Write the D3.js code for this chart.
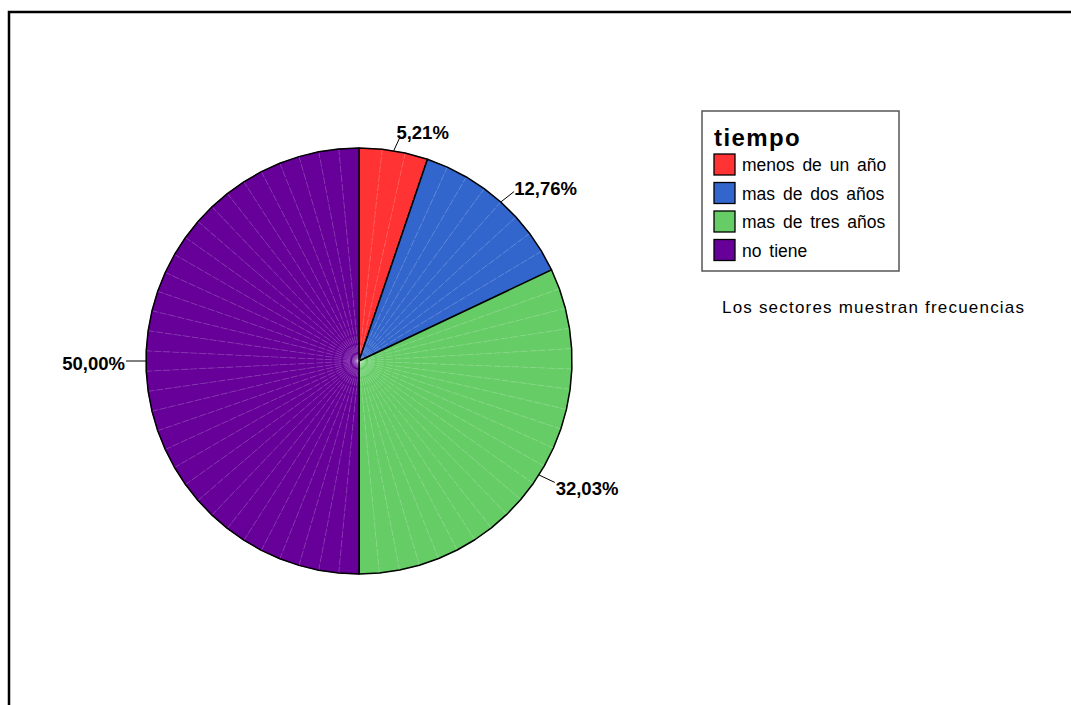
<!DOCTYPE html>
<html>

<head>
  <meta charset="UTF-8" />
  <title>tiempo</title>
  <style>
    body {
      margin: 0;
      background: white;
      font-family: "Liberation Sans", Arial, Helvetica, sans-serif;
    }
  </style>
  <script src="https://cdn.jsdelivr.net/npm/d3@7"></script>
</head>

<body>
  <div id="chart"></div>
  <script>
    // data
    const categories = ["menos de un año", "mas de dos años", "mas de tres años", "no tiene"];
    const percents = [5.21, 12.76, 32.03, 50.00];
    const colors = ["#ff3333", "#3366cc", "#66cc66", "#660099"];
    const legendTitle = "tiempo";
    const footnote = "Los sectores muestran frecuencias";

    let width = 1071, height = 705;
    let cx = 359, cy = 361, radius = 213;

    let svg = d3.select("#chart")
      .append("svg")
      .attr("width", width)
      .attr("height", height);

    // outer frame (right and bottom run off the page)
    svg.append("rect")
      .attr("x", 9)
      .attr("y", 12)
      .attr("width", 1100)
      .attr("height", 760)
      .attr("fill", "white")
      .attr("stroke", "black")
      .attr("stroke-width", 2.5);

    let pie = d3.pie().sort(null).value(d => d);
    let arcs = pie(percents);

    let g = svg.append("g")
      .attr("transform", "translate(" + cx + "," + cy + ")");

    /* each slice is drawn as a fan of thin triangles, like the original */
    arcs.forEach((a, i) => {
      let deg = (a.endAngle - a.startAngle) * 180 / Math.PI;
      let n = Math.max(3, Math.round(deg / 5.5));
      let step = (a.endAngle - a.startAngle) / n;
      let pts = d3.range(n + 1).map(k => d3.pointRadial(a.startAngle + k * step, radius));

      for (let k = 0; k < n; k++) {
        g.append("path")
          .attr("d", "M0,0L" + pts[k] + "L" + pts[k + 1] + "Z")
          .attr("fill", colors[i])
          .attr("stroke", colors[i])
          .attr("stroke-width", 0.6);
      }
      // light seams between triangles
      for (let k = 1; k < n; k++) {
        g.append("line")
          .attr("x1", 0).attr("y1", 0)
          .attr("x2", pts[k][0]).attr("y2", pts[k][1])
          .attr("stroke", "white")
          .attr("stroke-opacity", 0.22)
          .attr("stroke-width", 0.8)
          .attr("stroke-dasharray", "7,2");
      }
      g.append("path")
        .attr("d", "M0,0L" + pts.join("L") + "Z")
        .attr("fill", "none")
        .attr("stroke", "black")
        .attr("stroke-width", 1.5)
        .attr("stroke-linejoin", "round");
    });

    /* percentage labels with leader lines */
    let fmt = v => d3.format(".2f")(v).replace(".", ",") + "%";
    arcs.forEach((a, i) => {
      let mid = (a.startAngle + a.endAngle) / 2;
      let p0 = d3.pointRadial(mid, radius);
      let p1 = d3.pointRadial(mid, radius + 14);
      let right = Math.sin(mid) > 0;
      g.append("line")
        .attr("x1", p0[0]).attr("y1", p0[1])
        .attr("x2", p1[0] + (right ? 4 : -6)).attr("y2", p1[1])
        .attr("stroke", "black")
        .attr("stroke-width", 1);
      g.append("text")
        .attr("x", p1[0] + (right ? 5 - 5 * Math.pow(Math.cos(mid), 6) : -7))
        .attr("y", p1[1] + 9 - 7 * Math.cos(mid))
        .attr("text-anchor", right ? "start" : "end")
        .attr("font-size", 18.5)
        .attr("font-weight", "bold")
        .text(fmt(a.data));
    });

    /* legend */
    let legend = svg.append("g").attr("transform", "translate(702,111)");
    legend.append("rect")
      .attr("width", 197)
      .attr("height", 160)
      .attr("fill", "white")
      .attr("stroke", "#555")
      .attr("stroke-width", 1.5);
    legend.append("text")
      .attr("x", 12)
      .attr("y", 35)
      .attr("font-size", 24)
      .attr("font-weight", "bold")
      .attr("letter-spacing", 1.4)
      .text(legendTitle);

    let rows = legend.selectAll("g.row")
      .data(categories)
      .enter()
      .append("g")
      .attr("class", "row")
      .attr("transform", (d, i) => "translate(12," + (43 + i * 28.5) + ")");
    rows.append("rect")
      .attr("width", 21)
      .attr("height", 21)
      .attr("fill", (d, i) => colors[i])
      .attr("stroke", "black")
      .attr("stroke-width", 1.3);
    rows.append("text")
      .attr("x", 28)
      .attr("y", 17)
      .attr("font-size", 17.5)
      .attr("word-spacing", 3)
      .text(d => d);

    svg.append("text")
      .attr("x", 722)
      .attr("y", 313)
      .attr("font-size", 17)
      .attr("textLength", 302)
      .attr("lengthAdjust", "spacing")
      .text(footnote);
  </script>
</body>

</html>
